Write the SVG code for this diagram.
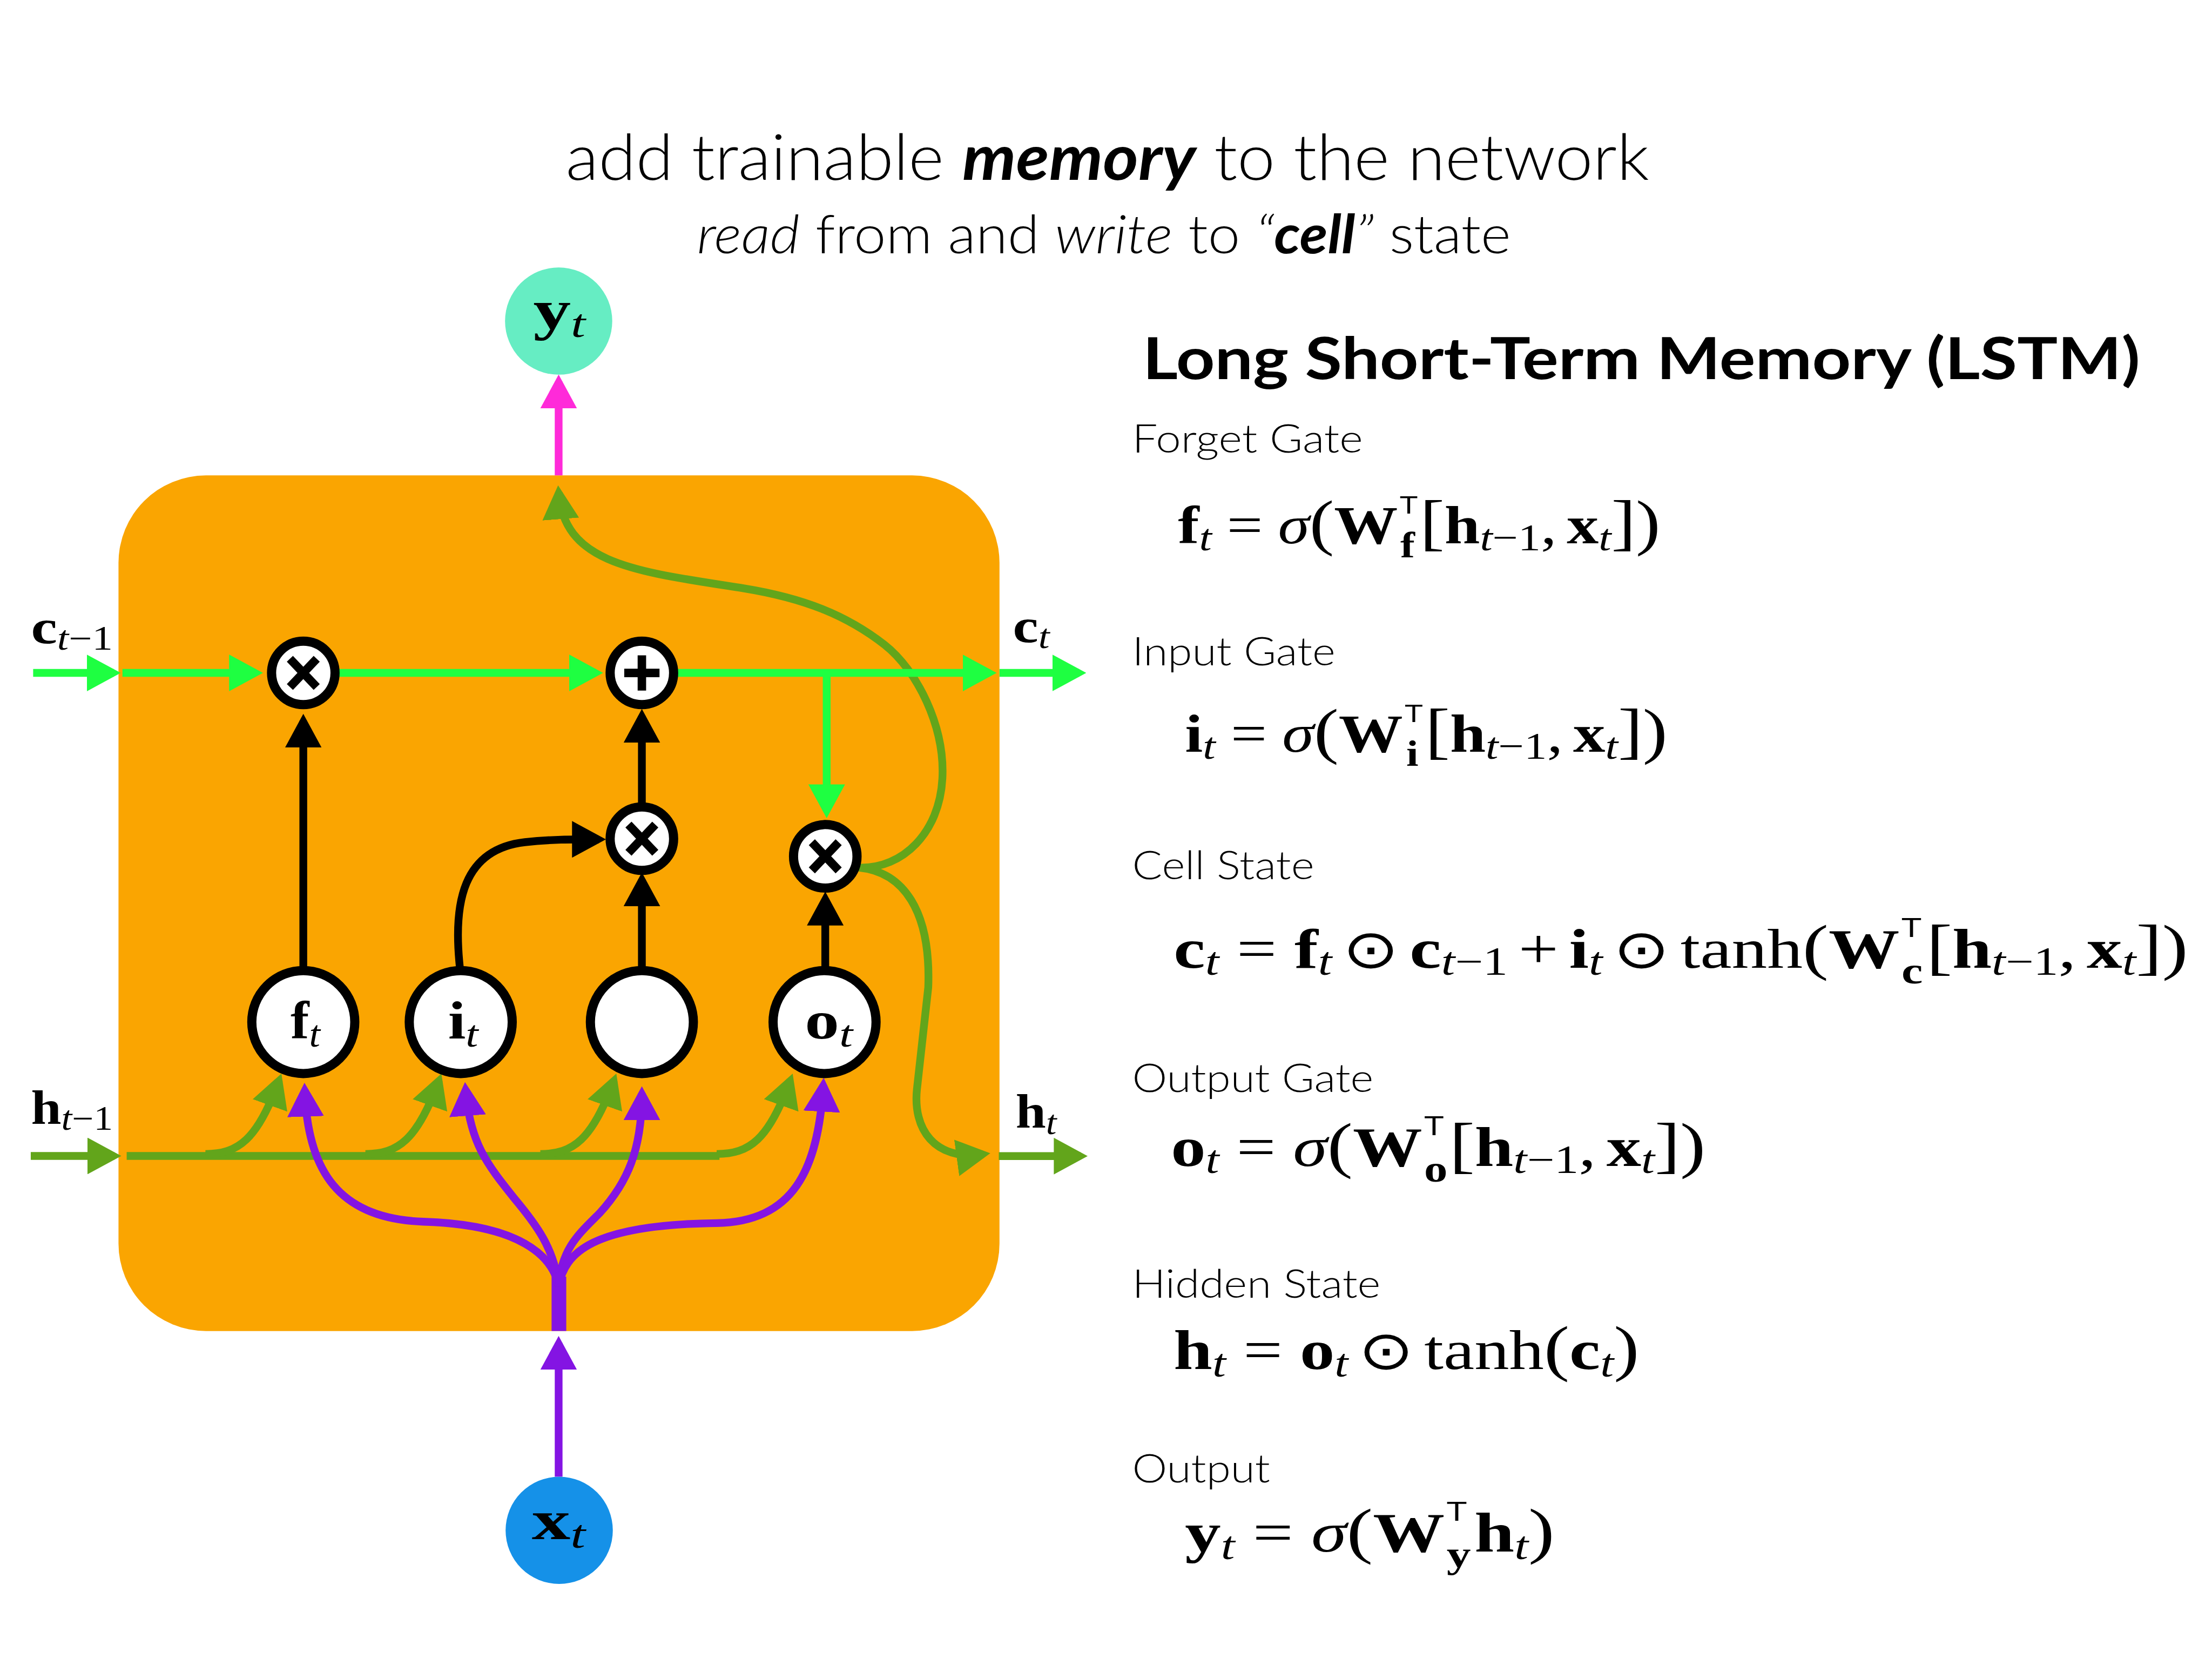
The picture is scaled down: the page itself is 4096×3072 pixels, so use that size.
<svg xmlns="http://www.w3.org/2000/svg" width="4096" height="3072" viewBox="0 0 4096 3072">
<style>
.c{fill:none;stroke-width:5.5;stroke-linejoin:round;stroke-linecap:butt}
.gb{stroke:#1eff41}.gd{stroke:#62a51b}.k{stroke:#000}.p{stroke:#8414e3}.pk{stroke:#ff2ad9}
.ring{fill:#fff;stroke:#000;stroke-width:6.5}
.sym{fill:none;stroke:#000;stroke-width:6}
.m{font-family:"Liberation Serif","DejaVu Serif",serif;fill:#000}
.b{font-weight:700}
.i{font-style:italic}
.pr{font-size:44px}
.ss{font-family:"Liberation Sans",sans-serif;font-weight:400;font-style:normal}
.od{font-family:"DejaVu Sans",sans-serif;font-weight:400;font-style:normal}
.sans{font-family:Lato,"Open Sans","Liberation Sans",sans-serif;fill:#000}
.lt{font-weight:300}
</style>
<defs>
<marker id="mg" markerUnits="userSpaceOnUse" viewBox="0 0 24 26" markerWidth="24" markerHeight="26" refX="19" refY="13" orient="auto"><path d="M0,0L24,13L0,26Z" fill="#1eff41"/></marker>
<marker id="md" markerUnits="userSpaceOnUse" viewBox="0 0 24 26" markerWidth="24" markerHeight="26" refX="19" refY="13" orient="auto"><path d="M0,0L24,13L0,26Z" fill="#62a51b"/></marker>
<marker id="mk" markerUnits="userSpaceOnUse" viewBox="0 0 24 26" markerWidth="24" markerHeight="26" refX="19" refY="13" orient="auto"><path d="M0,0L24,13L0,26Z" fill="#000"/></marker>
<marker id="mp" markerUnits="userSpaceOnUse" viewBox="0 0 24 26" markerWidth="24" markerHeight="26" refX="19" refY="13" orient="auto"><path d="M0,0L24,13L0,26Z" fill="#8414e3"/></marker>
<marker id="mpk" markerUnits="userSpaceOnUse" viewBox="0 0 24 26" markerWidth="24" markerHeight="26" refX="19" refY="13" orient="auto"><path d="M0,0L24,13L0,26Z" fill="#ff2ad9"/></marker>
</defs>
<rect width="4096" height="3072" fill="#fff"/>
<g transform="scale(2.612245)">
<g id="cell-box"><rect x="84" y="337" width="624.5" height="606.5" rx="62" ry="62" fill="#faa501"/></g>
<g id="connectors">
<path class="c gd" d="M89.8,819.4H510"/>
<path class="c gd" d="M21.8,819.4H81" marker-end="url(#md)"/>
<path class="c gd" d="M708,819.5H766" marker-end="url(#md)"/>
<path class="c gd" d="M145.6,818C168.6,818 182.6,808 197.8,765.7" marker-end="url(#md)"/>
<path class="c gd" d="M259,818C282,818 296,808 311.2,765.7" marker-end="url(#md)"/>
<path class="c gd" d="M383,818C406,818 420,808 435.2,765.7" marker-end="url(#md)"/>
<path class="c gd" d="M508,818C531,818 545,808 560.2,765.7" marker-end="url(#md)"/>
<path class="c gd" d="M609,615C640,616 666,590 668,552C670,515 650,475 627,457C600,436 570,424 527,417C450,405 400,400 396,349" marker-end="url(#md)"/>
<path class="c gd" d="M609,615C640,618 660,645 658,700L650,772C647,800 662,823 697,818.2" marker-end="url(#md)"/>
<path class="c gb" d="M23.5,477H80.6" marker-end="url(#mg)"/>
<path class="c gb" d="M86.8,477H181.4" marker-end="url(#mg)"/>
<path class="c gb" d="M238,477H422.5" marker-end="url(#mg)"/>
<path class="c gb" d="M476,477H701.5" marker-end="url(#mg)"/>
<path class="c gb" d="M708.5,477H765" marker-end="url(#mg)"/>
<path class="c gb" d="M586,477V575" marker-end="url(#mg)"/>
<path class="c k" d="M215,686V511" marker-end="url(#mk)"/>
<path class="c k" d="M455,570V507.5" marker-end="url(#mk)"/>
<path class="c k" d="M455,686V623.4" marker-end="url(#mk)"/>
<path class="c k" d="M585,686V637" marker-end="url(#mk)"/>
<path class="c k" d="M326,686C321,640 328,602 372,597C390,595 405,595 424.5,595" marker-end="url(#mk)"/>
<rect x="391" y="905" width="10.4" height="38.5" fill="#8414e3"/>
<path class="c p" d="M396,1046.8V952" marker-end="url(#mp)"/>
<path class="c p" d="M396,912C392,890 368,868 300,866C240,864 218,830 216,772.5" marker-end="url(#mp)"/>
<path class="c p" d="M396,912C393,885 380,868 365,850C345,825 333,810 330,772" marker-end="url(#mp)"/>
<path class="c p" d="M396,912C398,885 410,875 425,860C445,838 455,815 455,775" marker-end="url(#mp)"/>
<path class="c p" d="M396,912C400,888 420,868 508,867C562,866 580,830 583.6,769" marker-end="url(#mp)"/>
<path class="c pk" d="M396,337V270.5" marker-end="url(#mpk)"/>
</g>
<g id="node-yt"><circle cx="396" cy="227.6" r="38" fill="#66edc3"/><text class="m" x="378" y="233" font-size="40" textLength="37" lengthAdjust="spacingAndGlyphs"><tspan class="b">y</tspan><tspan class="i" font-size="28" dy="6">t</tspan></text></g>
<g id="node-xt"><circle cx="396.4" cy="1084.8" r="38" fill="#1591e8"/><text class="m" x="377" y="1091" font-size="40" textLength="38" lengthAdjust="spacingAndGlyphs"><tspan class="b">x</tspan><tspan class="i" font-size="28" dy="6">t</tspan></text></g>
<g id="node-ft"><circle class="ring" cx="215" cy="724.5" r="36.5"/><text class="m" x="206" y="736" font-size="38" textLength="21" lengthAdjust="spacingAndGlyphs"><tspan class="b">f</tspan><tspan class="i" font-size="27" dy="6">t</tspan></text></g>
<g id="node-it"><circle class="ring" cx="326.6" cy="724.5" r="36.5"/><text class="m" x="317.6" y="736" font-size="38" textLength="21.4" lengthAdjust="spacingAndGlyphs"><tspan class="b">i</tspan><tspan class="i" font-size="27" dy="6">t</tspan></text></g>
<g id="node-gt"><circle class="ring" cx="455" cy="724.5" r="36.5"/></g>
<g id="node-ot"><circle class="ring" cx="584.5" cy="724.5" r="36.5"/><text class="m" x="570.5" y="736" font-size="38" textLength="34" lengthAdjust="spacingAndGlyphs"><tspan class="b">o</tspan><tspan class="i" font-size="27" dy="6">t</tspan></text></g>
<g id="node-mul-f"><circle class="ring" cx="215" cy="477" r="22.5"/><path class="sym" d="M205.5,467L224.5,487M224.5,467L205.5,487"/></g>
<g id="node-add"><circle class="ring" cx="455" cy="477" r="22.5"/><path class="sym" d="M442.5,477H467.5M455,464.5V489.5"/></g>
<g id="node-mul-i"><circle class="ring" cx="455" cy="594.5" r="22.5"/><path class="sym" d="M445.5,584.5L464.5,604.5M464.5,584.5L445.5,604.5"/></g>
<g id="node-mul-o"><circle class="ring" cx="585" cy="607" r="22.5"/><path class="sym" d="M575.5,597L594.5,617M594.5,597L575.5,617"/></g>
<g id="edge-labels">
<text class="m" x="22" y="456" font-size="34" textLength="58" lengthAdjust="spacingAndGlyphs"><tspan class="b">c</tspan><tspan class="i" font-size="24" dy="4.5">t</tspan><tspan font-size="24">−1</tspan></text>
<text class="m" x="718" y="455" font-size="34" textLength="26" lengthAdjust="spacingAndGlyphs"><tspan class="b">c</tspan><tspan class="i" font-size="24" dy="4.5">t</tspan></text>
<text class="m" x="22" y="796.5" font-size="34" textLength="58" lengthAdjust="spacingAndGlyphs"><tspan class="b">h</tspan><tspan class="i" font-size="24" dy="4.5">t</tspan><tspan font-size="24">−1</tspan></text>
<text class="m" x="720" y="799.5" font-size="34" textLength="29" lengthAdjust="spacingAndGlyphs"><tspan class="b">h</tspan><tspan class="i" font-size="24" dy="4.5">t</tspan></text>
</g>
<g id="titles">
<text class="sans lt" x="401" y="127.5" font-size="45" textLength="768" lengthAdjust="spacingAndGlyphs">add trainable <tspan font-weight="700" font-style="italic">memory</tspan> to the network</text>
<text class="sans lt" x="494" y="179.4" font-size="38" textLength="577" lengthAdjust="spacingAndGlyphs"><tspan font-style="italic">read</tspan> from and <tspan font-style="italic">write</tspan> to <tspan font-style="italic">“</tspan><tspan font-weight="700" font-style="italic">cell</tspan><tspan font-style="italic">”</tspan> state</text>
<text class="sans" x="810" y="268.7" font-size="41" font-weight="700" textLength="707" lengthAdjust="spacingAndGlyphs">Long Short-Term Memory (LSTM)</text>
</g>
<g id="equations">
<text class="sans lt" x="802.6" y="320.8" font-size="28" textLength="163.5" lengthAdjust="spacingAndGlyphs">Forget Gate</text>
<text class="m" x="835" y="385" font-size="38" textLength="342" lengthAdjust="spacingAndGlyphs"><tspan class="b">f</tspan><tspan class="i" font-size="27" dy="5">t</tspan><tspan dx="9" dy="-5">=</tspan><tspan class="i" dx="9">σ</tspan><tspan class="pr">(</tspan><tspan class="b">W</tspan><tspan class="ss" font-size="18" dx="1" dy="-21">T</tspan><tspan class="b" font-size="26" dx="-10.5" dy="31">f</tspan><tspan class="pr" dx="3" dy="-10">[</tspan><tspan class="b">h</tspan><tspan class="i" font-size="27" dy="5">t</tspan><tspan font-size="27">−1</tspan><tspan dy="-5">,</tspan><tspan class="b" dx="6">x</tspan><tspan class="i" font-size="27" dy="5">t</tspan><tspan class="pr" dy="-5">])</tspan></text>
<text class="sans lt" x="802.6" y="471.6" font-size="28" textLength="144" lengthAdjust="spacingAndGlyphs">Input Gate</text>
<text class="m" x="840" y="533" font-size="38" textLength="342" lengthAdjust="spacingAndGlyphs"><tspan class="b">i</tspan><tspan class="i" font-size="27" dy="5">t</tspan><tspan dx="9" dy="-5">=</tspan><tspan class="i" dx="9">σ</tspan><tspan class="pr">(</tspan><tspan class="b">W</tspan><tspan class="ss" font-size="18" dx="1" dy="-21">T</tspan><tspan class="b" font-size="26" dx="-10" dy="31">i</tspan><tspan class="pr" dx="4" dy="-10">[</tspan><tspan class="b">h</tspan><tspan class="i" font-size="27" dy="5">t</tspan><tspan font-size="27">−1</tspan><tspan dy="-5">,</tspan><tspan class="b" dx="6">x</tspan><tspan class="i" font-size="27" dy="5">t</tspan><tspan class="pr" dy="-5">])</tspan></text>
<text class="sans lt" x="802.6" y="623.2" font-size="28" textLength="129" lengthAdjust="spacingAndGlyphs">Cell State</text>
<text class="m" x="832" y="686" font-size="40" textLength="719" lengthAdjust="spacingAndGlyphs"><tspan class="b">c</tspan><tspan class="i" font-size="28" dy="5">t</tspan><tspan dx="10" dy="-5">=</tspan><tspan class="b" dx="10">f</tspan><tspan class="i" font-size="28" dy="5">t</tspan><tspan class="od" font-size="38" dx="6" dy="-5">⊙</tspan><tspan class="b" dx="6">c</tspan><tspan class="i" font-size="28" dy="5">t</tspan><tspan font-size="28">−1</tspan><tspan dx="6" dy="-5">+</tspan><tspan class="b" dx="6">i</tspan><tspan class="i" font-size="28" dy="5">t</tspan><tspan class="od" font-size="38" dx="6" dy="-5">⊙</tspan><tspan dx="6">tanh</tspan><tspan class="pr" font-size="46">(</tspan><tspan class="b">W</tspan><tspan class="ss" font-size="19" dx="1" dy="-22">T</tspan><tspan class="b" font-size="27" dx="-11.5" dy="33">c</tspan><tspan class="pr" font-size="46" dx="2" dy="-11">[</tspan><tspan class="b">h</tspan><tspan class="i" font-size="28" dy="5">t</tspan><tspan font-size="28">−1</tspan><tspan dy="-5">,</tspan><tspan class="b" dx="6">x</tspan><tspan class="i" font-size="28" dy="5">t</tspan><tspan class="pr" font-size="46" dy="-5">])</tspan></text>
<text class="sans lt" x="802.6" y="774" font-size="28" textLength="171" lengthAdjust="spacingAndGlyphs">Output Gate</text>
<text class="m" x="830" y="826.6" font-size="40" textLength="379" lengthAdjust="spacingAndGlyphs"><tspan class="b">o</tspan><tspan class="i" font-size="28" dy="5">t</tspan><tspan dx="10" dy="-5">=</tspan><tspan class="i" dx="10">σ</tspan><tspan class="pr" font-size="46">(</tspan><tspan class="b">W</tspan><tspan class="ss" font-size="19" dx="1" dy="-22">T</tspan><tspan class="b" font-size="27" dx="-11.5" dy="33">o</tspan><tspan class="pr" font-size="46" dx="1" dy="-11">[</tspan><tspan class="b">h</tspan><tspan class="i" font-size="28" dy="5">t</tspan><tspan font-size="28">−1</tspan><tspan dy="-5">,</tspan><tspan class="b" dx="6">x</tspan><tspan class="i" font-size="28" dy="5">t</tspan><tspan class="pr" font-size="46" dy="-5">])</tspan></text>
<text class="sans lt" x="802.6" y="920" font-size="28" textLength="176" lengthAdjust="spacingAndGlyphs">Hidden State</text>
<text class="m" x="832" y="970.6" font-size="40" textLength="330" lengthAdjust="spacingAndGlyphs"><tspan class="b">h</tspan><tspan class="i" font-size="28" dy="5">t</tspan><tspan dx="10" dy="-5">=</tspan><tspan class="b" dx="10">o</tspan><tspan class="i" font-size="28" dy="5">t</tspan><tspan class="od" font-size="38" dx="6" dy="-5">⊙</tspan><tspan dx="6">tanh</tspan><tspan class="pr" font-size="46">(</tspan><tspan class="b">c</tspan><tspan class="i" font-size="28" dy="5">t</tspan><tspan class="pr" font-size="46" dy="-5">)</tspan></text>
<text class="sans lt" x="802.6" y="1051" font-size="28" textLength="97.7" lengthAdjust="spacingAndGlyphs">Output</text>
<text class="m" x="840" y="1100" font-size="40" textLength="262" lengthAdjust="spacingAndGlyphs"><tspan class="b">y</tspan><tspan class="i" font-size="28" dy="5">t</tspan><tspan dx="10" dy="-5">=</tspan><tspan class="i" dx="10">σ</tspan><tspan class="pr" font-size="46">(</tspan><tspan class="b">W</tspan><tspan class="ss" font-size="19" dx="1" dy="-22">T</tspan><tspan class="b" font-size="27" dx="-11.5" dy="33">y</tspan><tspan class="b" dx="2" dy="-11">h</tspan><tspan class="i" font-size="28" dy="5">t</tspan><tspan class="pr" font-size="46" dy="-5">)</tspan></text>
</g>
</g>
</svg>
